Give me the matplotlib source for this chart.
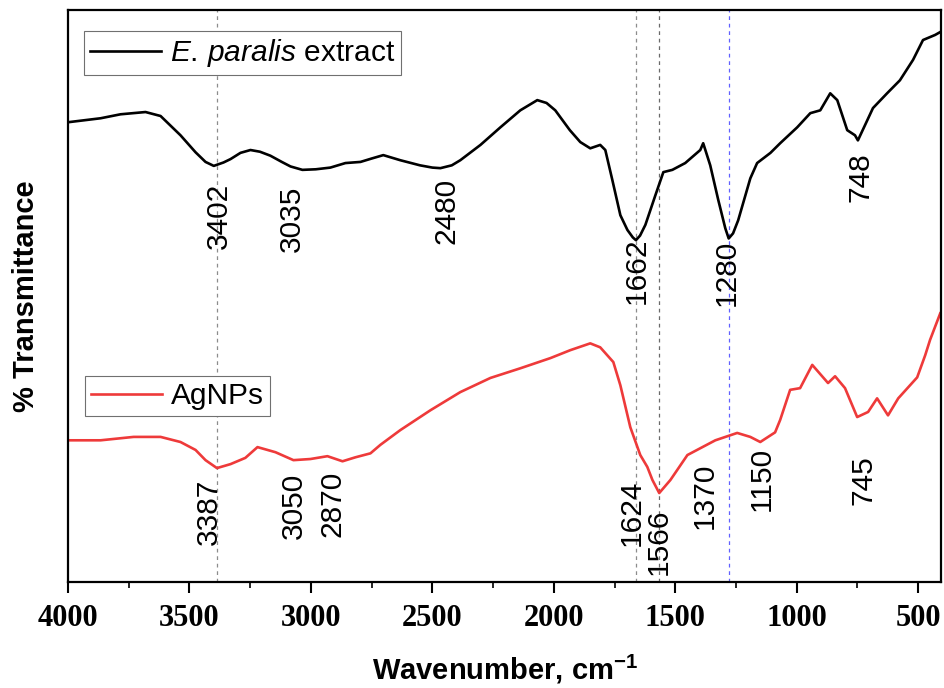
import matplotlib
matplotlib.use("Agg")
import matplotlib.pyplot as plt
from matplotlib.ticker import MultipleLocator

plt.rcParams['font.family'] = ['Liberation Sans', 'DejaVu Sans']
plt.rcParams['mathtext.fontset'] = 'custom'
plt.rcParams['mathtext.rm'] = 'Liberation Sans'
plt.rcParams['mathtext.it'] = 'Liberation Sans:italic'
plt.rcParams['mathtext.bf'] = 'Liberation Sans:bold'

# E. paralis extract spectrum (wavenumber, %T)
wn_ext = [4000, 3866, 3784, 3681, 3619, 3537, 3475, 3434, 3400, 3360, 3331, 3290, 3249,
          3210, 3167, 3120, 3084, 3035, 2980, 2920, 2858, 2796, 2750, 2702, 2632, 2551,
          2500, 2467, 2420, 2385, 2302, 2220, 2138, 2068, 2030, 1994, 1934, 1891, 1850,
          1809, 1788, 1759, 1726, 1697, 1675, 1662, 1645, 1623, 1582, 1549, 1512, 1459,
          1397, 1385, 1356, 1323, 1294, 1280, 1262, 1241, 1191, 1163, 1108, 1068, 998,
          944, 903, 862, 833, 792, 760, 748, 686, 628, 575, 521, 480, 430, 401]
t_ext = [80.4, 81.1, 81.8, 82.2, 81.5, 78.1, 75.1, 73.4, 72.7, 73.3, 73.9, 75.0, 75.5,
         75.2, 74.5, 73.4, 72.6, 72.0, 72.1, 72.4, 73.2, 73.4, 74.0, 74.6, 73.7, 72.8,
         72.4, 72.3, 72.8, 73.7, 76.4, 79.5, 82.5, 84.3, 83.8, 82.5, 79.0, 76.9, 75.8,
         76.4, 75.5, 70.2, 64.0, 61.4, 60.1, 59.6, 60.4, 62.3, 67.5, 71.6, 72.0, 73.2,
         75.5, 76.7, 72.8, 66.7, 61.7, 59.9, 60.8, 63.1, 70.5, 73.2, 75.0, 76.7, 79.5,
         82.0, 82.5, 85.5, 84.3, 79.0, 78.1, 77.2, 82.9, 85.5, 87.8, 91.4, 94.9, 95.8,
         96.5]

# AgNPs spectrum
wn_ag = [4000, 3866, 3730, 3619, 3537, 3475, 3434, 3387, 3331, 3270, 3220, 3146,
         3072, 3002, 2932, 2870, 2817, 2755, 2714, 2632, 2508, 2385, 2261, 2138,
         2014, 1932, 1850, 1809, 1755, 1726, 1685, 1644, 1615, 1594, 1566, 1520,
         1450, 1397, 1335, 1245, 1191, 1150, 1089, 1068, 1027, 986, 936, 871,
         842, 801, 751, 706, 669, 624, 582, 504, 471, 451, 409]
t_ag = [24.3, 24.3, 24.9, 24.9, 24.0, 22.6, 20.8, 19.4, 20.1, 21.2, 23.1, 22.2,
        20.8, 21.0, 21.5, 20.6, 21.3, 22.0, 23.5, 26.1, 29.6, 32.8, 35.3, 37.0,
        38.8, 40.2, 41.4, 40.7, 38.1, 34.0, 26.6, 21.7, 19.6, 17.3, 15.0, 17.3,
        21.7, 22.9, 24.3, 25.6, 24.9, 24.0, 25.7, 27.9, 33.2, 33.5, 37.6, 34.4,
        35.6, 33.5, 28.4, 29.3, 31.7, 28.7, 31.7, 35.4, 39.3, 42.0, 46.7]

peaks_ext = ['3402', '3035', '2480', '1662', '1280', '748']
peaks_ag = ['3387', '3050', '2870', '1624', '1566', '1370', '1150', '745']

# label anchor positions (wavenumber, top of text)
pos_ext = [(3380, 69.7), (3080, 69.3), (2442, 70.5), (1657, 60.0), (1286, 59.6), (739, 75.0)]
pos_ag = [(3422, 17.6), (3072, 18.5), (2912, 19.0), (1681, 17.3), (1566, 12.3),
          (1377, 20.3), (1142, 23.1), (727, 21.7)]

fig = plt.figure(figsize=(9.45, 6.88), dpi=100)
ax = fig.add_axes([0.072, 0.154, 0.924, 0.8315])

# dashed guide lines
ax.axvline(3387, color='#8c8c8c', ls=(0, (3, 3)), lw=0.9)
ax.axvline(1662, color='#8c8c8c', ls=(0, (3, 3)), lw=0.9)
ax.axvline(1566, color='#6a6a6a', ls=(0, (3, 3)), lw=0.9)
ax.axvline(1280, color='#6060ff', ls=(0, (3, 3)), lw=0.9)

l1, = ax.plot(wn_ext, t_ext, color='black', lw=1.9,
              label=r'$\mathit{E.\,paralis}$ extract')
l2, = ax.plot(wn_ag, t_ag, color='#ee3a3a', lw=1.9, label='AgNPs')

fs = 21.5
for txt, (x, y) in zip(peaks_ext, pos_ext):
    ax.text(x, y, txt, rotation=90, ha='center', va='top', fontsize=fs)
for txt, (x, y) in zip(peaks_ag, pos_ag):
    ax.text(x, y, txt, rotation=90, ha='center', va='top', fontsize=fs)

leg1 = ax.legend(handles=[l1], loc='upper left', bbox_to_anchor=(0.018, 0.963),
                 borderaxespad=0, fancybox=False, edgecolor='#707070', fontsize=fs,
                 handlelength=2.4, handletextpad=0.3, borderpad=0.2, framealpha=1)
leg1.get_frame().set_linewidth(0.8)
ax.add_artist(leg1)
leg2 = ax.legend(handles=[l2], loc='upper left', bbox_to_anchor=(0.019, 0.360),
                 borderaxespad=0, fancybox=False, edgecolor='#707070', fontsize=fs,
                 handlelength=2.4, handletextpad=0.3, borderpad=0.2, framealpha=1)
leg2.get_frame().set_linewidth(0.8)

ax.set_xlim(4000, 405)
ax.set_ylim(-0.7, 100.2)
ax.xaxis.set_major_locator(MultipleLocator(500))
ax.xaxis.set_minor_locator(MultipleLocator(250))
ax.set_yticks([])
ax.tick_params(axis='x', which='major', direction='out', length=8, width=1.5, pad=8)
ax.tick_params(axis='x', which='minor', direction='out', length=4.5, width=1.2)
for lab in ax.get_xticklabels():
    lab.set_fontfamily('Liberation Serif')
    lab.set_fontweight('bold')
    lab.set_fontsize(22)
for s in ax.spines.values():
    s.set_linewidth(1.6)

ax.set_xlabel(r'Wavenumber, cm$^{\mathbf{-1}}$', fontsize=21, fontweight='bold', labelpad=14)
ax.set_ylabel('% Transmittance', fontsize=21, fontweight='bold', labelpad=20)

fig.savefig('out.png', dpi=100)
